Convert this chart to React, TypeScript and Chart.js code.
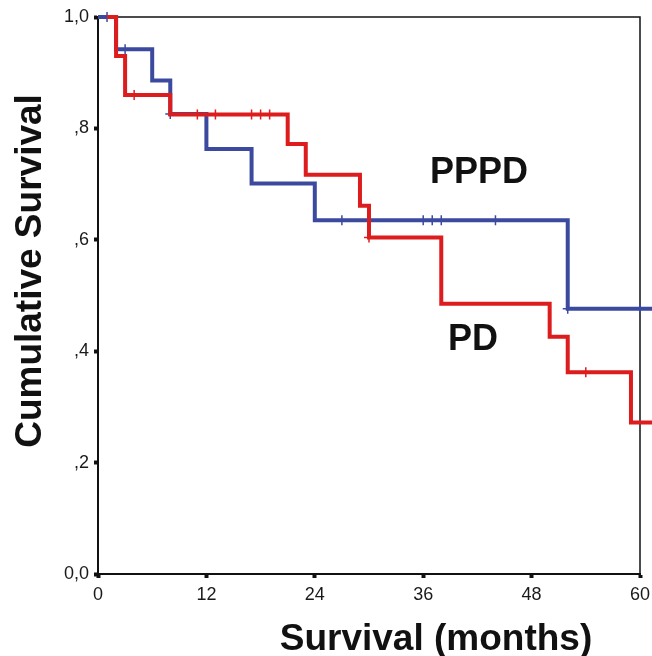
import React, { useEffect, useRef } from "react";
import { Chart, registerables } from "chart.js";

Chart.register(...registerables);

// Axis ticks and labels
const xTicks = [0, 12, 24, 36, 48, 60];
const xTickLabels = ["0", "12", "24", "36", "48", "60"];
const yTicks = [0, 0.2, 0.4, 0.6, 0.8, 1.0];
const yTickLabels = ["0,0", ",2", ",4", ",6", ",8", "1,0"];

// PPPD step curve (survival after each event time)
const pppdTimes = [0, 2, 6, 8, 12, 17, 24, 52, 61.5];
const pppdSurv = [1.0, 0.942, 0.886, 0.826, 0.763, 0.701, 0.635, 0.476, 0.476];
const pppdCensorTimes = [1, 3, 8, 27, 36, 37, 38, 44, 52, 60];
const pppdCensorSurv = [1.0, 0.942, 0.826, 0.635, 0.635, 0.635, 0.635, 0.635, 0.476, 0.476];

// PD step curve
const pdTimes = [1, 2, 3, 8, 21, 23, 29, 30, 38, 50, 52, 59, 61.5];
const pdSurv = [1.0, 0.93, 0.86, 0.825, 0.772, 0.717, 0.661, 0.604, 0.485, 0.426, 0.362, 0.272, 0.272];
const pdCensorTimes = [4, 11, 13, 17, 18, 19, 30, 54];
const pdCensorSurv = [0.86, 0.825, 0.825, 0.825, 0.825, 0.825, 0.604, 0.362];

const BLUE = "#3b4a9f";
const RED = "#dd1d1d";
const FONT = '"Liberation Sans", Arial, Helvetica, sans-serif';

const toPts = (xs: number[], ys: number[]) => xs.map((x, i) => ({ x, y: ys[i] }));

const framePlugin = {
  id: "frame",
  beforeDatasetsDraw(chart: any) {
    const { ctx, chartArea } = chart;
    ctx.save();
    ctx.strokeStyle = "#111";
    ctx.lineWidth = 1.5;
    ctx.beginPath();
    ctx.moveTo(chartArea.left, chartArea.top);
    ctx.lineTo(chartArea.right, chartArea.top);
    ctx.lineTo(chartArea.right, chartArea.bottom);
    ctx.stroke();
    ctx.restore();
  },
};

const textPlugin = {
  id: "texts",
  afterDraw(chart: any) {
    const { ctx } = chart;
    ctx.save();
    ctx.fillStyle = "#111";
    ctx.font = `bold 37px ${FONT}`;
    ctx.textAlign = "center";
    ctx.textBaseline = "alphabetic";
    ctx.fillText("Survival (months)", 436, 650);
    ctx.save();
    ctx.translate(41, 271);
    ctx.rotate(-Math.PI / 2);
    ctx.fillText("Cumulative Survival", 0, 0);
    ctx.restore();
    ctx.font = `bold 36px ${FONT}`;
    ctx.textAlign = "left";
    ctx.fillText("PPPD", 430, 183);
    ctx.fillText("PD", 448, 350);
    ctx.restore();
  },
};

export default function App() {
  const ref = useRef<HTMLCanvasElement>(null);

  useEffect(() => {
    if (!ref.current) return;
    const chart = new Chart(ref.current, {
      type: "line",
      data: {
        datasets: [
          {
            type: "scatter",
            label: "PD censored",
            data: toPts(pdCensorTimes, pdCensorSurv),
            pointStyle: "cross",
            pointRadius: 5,
            pointBorderWidth: 1.5,
            pointBorderColor: RED,
            pointBackgroundColor: RED,
            showLine: false,
            clip: false,
          } as any,
          {
            label: "PD",
            data: toPts(pdTimes, pdSurv),
            borderColor: RED,
            borderWidth: 4,
            stepped: "before",
            pointRadius: 0,
            fill: false,
            borderJoinStyle: "miter",
            borderCapStyle: "butt",
            clip: false,
          },
          {
            type: "scatter",
            label: "PPPD censored",
            data: toPts(pppdCensorTimes, pppdCensorSurv),
            pointStyle: "cross",
            pointRadius: 5,
            pointBorderWidth: 1.5,
            pointBorderColor: BLUE,
            pointBackgroundColor: BLUE,
            showLine: false,
            clip: false,
          } as any,
          {
            label: "PPPD",
            data: toPts(pppdTimes, pppdSurv),
            borderColor: BLUE,
            borderWidth: 4,
            stepped: "before",
            pointRadius: 0,
            fill: false,
            borderJoinStyle: "miter",
            borderCapStyle: "butt",
            clip: false,
          },
        ],
      },
      options: {
        animation: false,
        responsive: false,
        devicePixelRatio: 1,
        layout: { padding: { top: 17, right: 12, left: 0, bottom: 0 } },
        plugins: {
          legend: { display: false },
          tooltip: { enabled: false },
        },
        scales: {
          x: {
            type: "linear",
            min: 0,
            max: 60,
            afterFit: (s: any) => {
              s.height = 82;
              s.paddingLeft = 0;
              s.paddingRight = 0;
            },
            afterBuildTicks: (s: any) => {
              s.ticks = xTicks.map((v) => ({ value: v }));
            },
            ticks: {
              callback: (_v: any, i: number) => xTickLabels[i],
              color: "#1a1a1a",
              font: { family: FONT, size: 18 },
              padding: 6,
              maxRotation: 0,
            },
            grid: {
              drawOnChartArea: false,
              drawTicks: true,
              tickLength: 4,
              tickWidth: 4,
              tickColor: "#111",
            },
            border: { display: true, color: "#111", width: 2 },
          },
          y: {
            type: "linear",
            min: 0,
            max: 1,
            afterFit: (s: any) => {
              s.width = 98;
              s.paddingTop = 0;
              s.paddingBottom = 0;
            },
            afterBuildTicks: (s: any) => {
              s.ticks = yTicks.map((v) => ({ value: v }));
            },
            ticks: {
              callback: (_v: any, i: number) => yTickLabels[i],
              color: "#1a1a1a",
              font: { family: FONT, size: 18 },
              padding: 5,
            },
            grid: {
              drawOnChartArea: false,
              drawTicks: true,
              tickLength: 4,
              tickWidth: 4,
              tickColor: "#111",
            },
            border: { display: true, color: "#111", width: 2 },
          },
        },
      },
      plugins: [framePlugin, textPlugin],
    });
    return () => chart.destroy();
  }, []);

  return (
    <div
      style={{
        position: "fixed",
        left: 0,
        top: 0,
        width: 652,
        height: 656,
        background: "#fff",
        overflow: "hidden",
      }}
    >
      <canvas ref={ref} width={652} height={656} style={{ display: "block", width: 652, height: 656 }} />
    </div>
  );
}
